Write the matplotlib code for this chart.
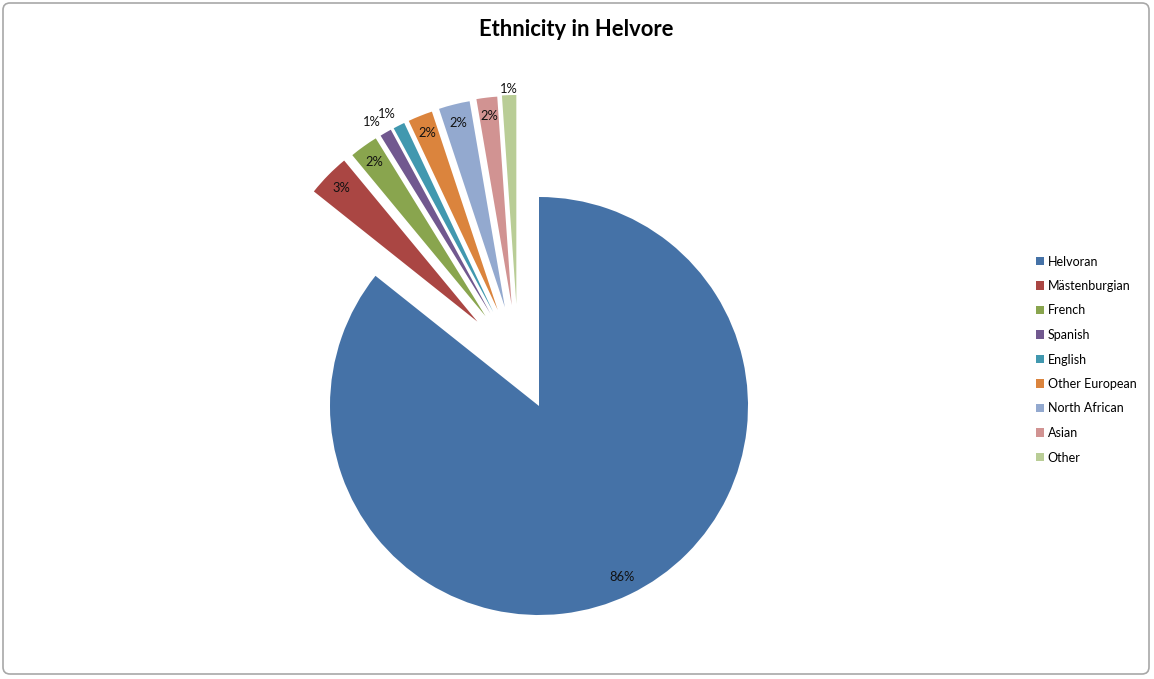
import matplotlib.pyplot as plt
import numpy as np
from matplotlib.patches import FancyBboxPatch

# data
groups = ["Helvoran", "Mästenburgian", "French", "Spanish", "English",
          "Other European", "North African", "Asian", "Other"]
shares = [85.7, 3.3, 2.2, 0.9, 0.9, 1.9, 2.4, 1.6, 1.1]
colors = ["#4572A7", "#AA4643", "#89A54E", "#71588F", "#4198AF",
          "#DB843D", "#93A9CF", "#D19392", "#B9CD96"]

plt.rcParams["font.family"] = ["Lato", "DejaVu Sans"]

W, H = 1154, 679
fig = plt.figure(figsize=(W / 100, H / 100), dpi=100)
fig.patch.set_facecolor("white")

# chart frame (excel style)
frame = FancyBboxPatch((3, 5), 1146, 671, boxstyle="round,pad=0,rounding_size=7",
                       transform=None, facecolor="none", edgecolor="#a8a8a8",
                       linewidth=1.2, zorder=5)
fig.patches.append(frame)

ax = fig.add_axes([0, 0, 1, 1])
ax.axis("off")

wedges, _ = ax.pie(shares, colors=colors, startangle=90, counterclock=False,
                   radius=1, wedgeprops=dict(linewidth=0))

# pie centre at (539, 406) px, radius 209 px
cx, cy, R = 539, 406, 209
ax.set_xlim(-cx / R, (W - cx) / R)
ax.set_ylim(-(H - cy) / R, cy / R)
ax.set_aspect("auto")

# explode the small groups as a fan
explode = 0.5
label_r = [0.91, 0.91, 0.91, 1.06, 1.06, 0.91, 0.91, 0.91, 1.03]
label_dx = [0, 0, 0, -0.035, -0.03, 0, 0, 0, 0]
for i, w in enumerate(wedges):
    mid = ((w.theta1 + w.theta2) / 2) % 360
    ox, oy = 0.0, 0.0
    if i > 0:
        d = np.deg2rad(115.0 + 0.542 * (mid - 115.0))
        ox, oy = explode * np.cos(d), explode * np.sin(d)
        w.set_center((ox, oy))
    m = np.deg2rad(mid)
    ax.text(ox + label_r[i] * np.cos(m) + label_dx[i], oy + label_r[i] * np.sin(m),
            f"{shares[i]:.0f}%", ha="center", va="center", fontsize=9.3,
            color="#111111")

fig.text(576 / W, 1 - 29 / H, "Ethnicity in Helvore", ha="center", va="center",
         fontsize=15.8, fontweight="bold")

fig.legend(wedges, groups, loc="center left", bbox_to_anchor=(1036 / W, 1 - 359.5 / H),
           frameon=False, fontsize=9, handlelength=0.65, handleheight=0.65,
           handletextpad=0.3, labelspacing=1.0, borderpad=0, borderaxespad=0)

fig.savefig("out.png", dpi=100)
